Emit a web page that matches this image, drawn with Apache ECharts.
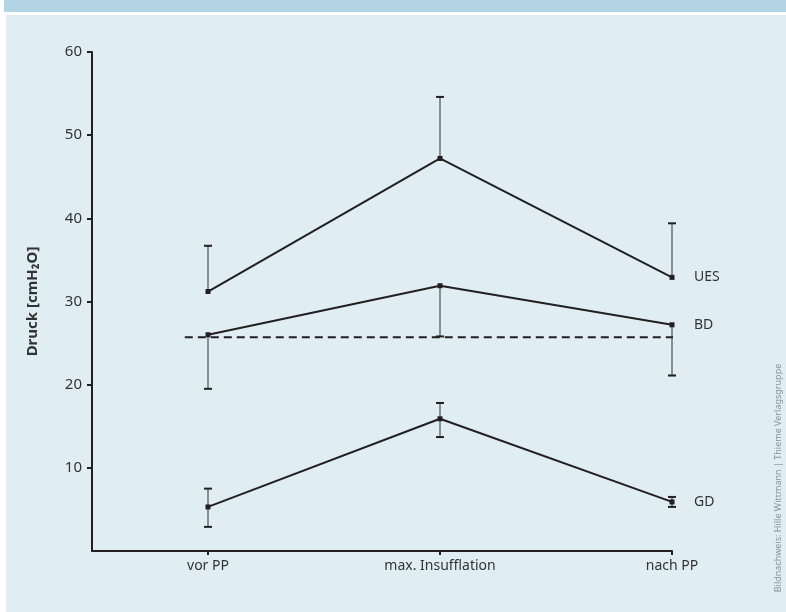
<!DOCTYPE html>
<html>
<head>
<meta charset="utf-8">
<script src="https://cdn.jsdelivr.net/npm/echarts@6/dist/echarts.min.js"></script>
<style>html,body{margin:0;padding:0;background:#fff}#c{width:786px;height:612px}</style>
</head>
<body>
<div id="c"></div>
<script>
// ---- data ----
var categories = ['vor PP', 'max. Insufflation', 'nach PP'];
var yTicks = [10, 20, 30, 40, 50, 60];
var uesMean = [31.2, 47.2, 32.9];
var uesHigh = [36.7, 54.6, 39.4];
var bdMean = [26.0, 31.9, 27.2];
var bdLow = [19.5, 25.8, 21.1];
var gdMean = [5.3, 15.9, 5.9];
var gdLow = [2.9, 13.7, 5.3];
var gdHigh = [7.5, 17.8, 6.5];
var baselineValue = 25.7;
var baselineRange = [-0.1, 2.09];
var seriesNames = ['UES', 'BD', 'GD'];

function pts(arr) { return arr.map(function (v, i) { return [i, v]; }); }
var errorBars = [];
uesMean.forEach(function (m, i) { errorBars.push([i, m, uesHigh[i]]); });
bdMean.forEach(function (m, i) { errorBars.push([i, m, bdLow[i]]); });
gdMean.forEach(function (m, i) { errorBars.push([i, m, gdHigh[i]]); errorBars.push([i, m, gdLow[i]]); });

var FONT = 'Noto Sans';
var chart = echarts.init(document.getElementById('c'), null, { renderer: 'canvas' });

function lineSeries(name, data) {
  return {
    type: 'line', name: name, data: pts(data), symbol: 'rect', symbolSize: 5,
    itemStyle: { color: '#231f20' }, lineStyle: { color: '#231f20', width: 2 },
    z: 5, animation: false,
    endLabel: { show: true, formatter: name, distance: 22, color: '#333', fontFamily: FONT, fontSize: 14 }
  };
}

chart.setOption({
  backgroundColor: '#e0edf3',
  animation: false,
  graphic: [
    { type: 'rect', shape: { x: 0, y: 0, width: 786, height: 15 }, style: { fill: '#ffffff' } },
    { type: 'rect', shape: { x: 0, y: 0, width: 6, height: 612 }, style: { fill: '#ffffff' } },
    { type: 'rect', shape: { x: 4, y: 0, width: 782, height: 12 }, style: { fill: '#b3d4e4' } },
    { type: 'text', x: 778, y: 478, rotation: Math.PI / 2,
      style: { text: 'Bildnachweis: Hille Wittmann | Thieme Verlagsgruppe', fill: '#8a9499', font: '9px Noto Sans', align: 'center', verticalAlign: 'middle' } }
  ],
  grid: { left: 92, right: 114, top: 52, bottom: 61 },
  xAxis: {
    type: 'value', min: -0.5, max: 2,
    splitLine: { show: false },
    axisLine: { onZero: false, lineStyle: { color: '#231f20', width: 2 } },
    axisTick: { show: true, customValues: [0, 1, 2], length: 4, lineStyle: { color: '#231f20', width: 2 } },
    axisLabel: { customValues: [0, 1, 2], formatter: function (v) { return categories[Math.round(v)]; },
      color: '#333', fontFamily: FONT, fontSize: 14, margin: 8 }
  },
  yAxis: {
    type: 'value', min: 0, max: 60, interval: 10,
    name: 'Druck [cmH\u2082O]', nameLocation: 'middle', nameGap: 52, nameRotate: 90,
    nameTextStyle: { color: '#333', fontFamily: FONT, fontSize: 15, fontWeight: 'bold' },
    splitLine: { show: false },
    axisLine: { show: true, onZero: false, lineStyle: { color: '#231f20', width: 2 } },
    axisTick: { show: true, customValues: yTicks, length: 5, lineStyle: { color: '#231f20', width: 2 } },
    axisLabel: { customValues: yTicks, color: '#333', fontFamily: FONT, fontSize: 15, margin: 10 }
  },
  series: [
    {
      type: 'custom', data: errorBars, z: 3, clip: false,
      renderItem: function (params, api) {
        var a = api.coord([api.value(0), api.value(1)]);
        var b = api.coord([api.value(0), api.value(2)]);
        return { type: 'group', children: [
          { type: 'line', shape: { x1: a[0], y1: a[1], x2: b[0], y2: b[1] }, style: { stroke: '#6d6e70', lineWidth: 1.5 } },
          { type: 'line', shape: { x1: b[0] - 4, y1: b[1], x2: b[0] + 4, y2: b[1] }, style: { stroke: '#231f20', lineWidth: 2 } }
        ] };
      }
    },
    {
      type: 'line', data: [[baselineRange[0], baselineValue], [baselineRange[1], baselineValue]],
      symbol: 'none', clip: false, z: 4,
      lineStyle: { color: '#231f20', width: 2, type: [8, 5] }
    },
    lineSeries(seriesNames[0], uesMean),
    lineSeries(seriesNames[1], bdMean),
    lineSeries(seriesNames[2], gdMean)
  ]
});
</script>
</body>
</html>
